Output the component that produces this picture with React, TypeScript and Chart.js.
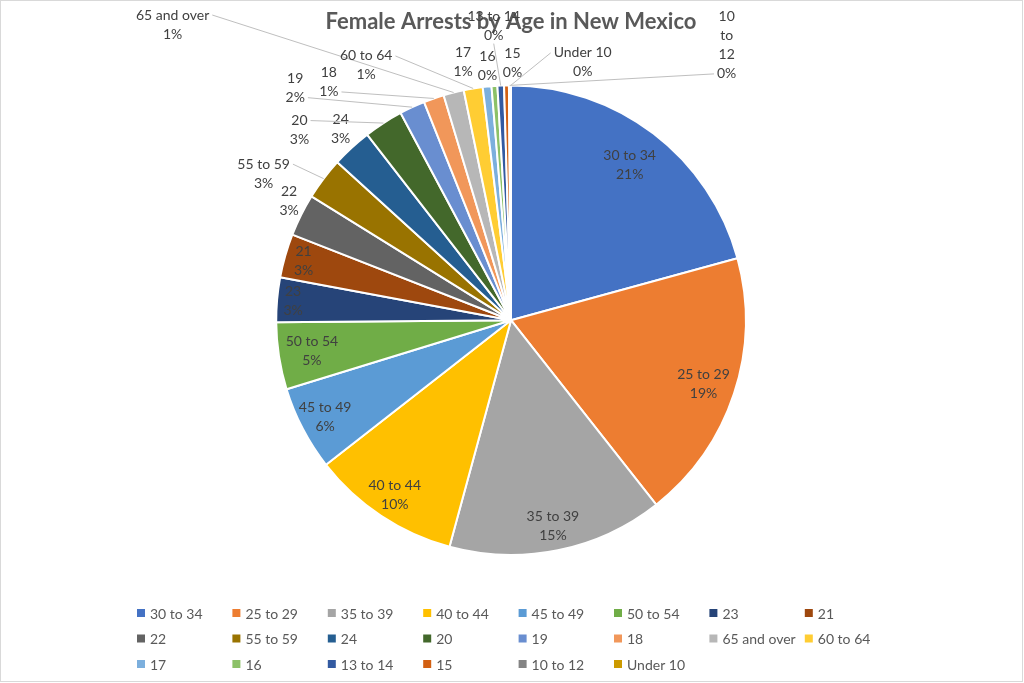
import React, { useEffect, useRef } from "react";
import { Chart, registerables } from "chart.js";

Chart.register(...registerables);

// ---------- data ----------
const categories = [
  "30 to 34", "25 to 29", "35 to 39", "40 to 44", "45 to 49", "50 to 54",
  "23", "21", "22", "55 to 59", "24", "20", "19", "18", "65 and over",
  "60 to 64", "17", "16", "13 to 14", "15", "10 to 12", "Under 10",
];
const arrests = [
  2070, 1860, 1480, 1020, 580, 460,
  306, 300, 290, 290, 275, 270, 175, 140, 140,
  130, 60, 40, 45, 33, 10, 4,
];
const sliceColors = [
  "#4472C4", "#ED7D31", "#A5A5A5", "#FFC000", "#5B9BD5", "#70AD47",
  "#264478", "#9E480E", "#636363", "#997300", "#255E91", "#43682B",
  "#698ED0", "#F1975A", "#B7B7B7", "#FFCD33", "#7CAFDD", "#8CC168",
  "#335AA1", "#D26012", "#848484", "#CC9A00",
];
const chartTitle = "Female Arrests by Age in New Mexico";

// ---------- label layout ----------
type Attach = "r1" | "rL" | "l1" | "lL" | "b";
type Place =
  | { mode: "in"; shift?: number }
  | { mode: "out"; dx: number; dy: number; attach?: Attach; wrap?: boolean };

const labelPlacement: Record<string, Place> = {
  "30 to 34": { mode: "in", shift: -4 },
  "25 to 29": { mode: "in", shift: 3 },
  "35 to 39": { mode: "in", shift: 4 },
  "40 to 44": { mode: "in", shift: 10 },
  "45 to 49": { mode: "in", shift: 11 },
  "22": { mode: "out", dx: -12, dy: -14 },
  "55 to 59": { mode: "out", dx: -60, dy: -5, attach: "r1" },
  "24": { mode: "out", dx: -11, dy: -19 },
  "20": { mode: "out", dx: -84, dy: 7, attach: "r1" },
  "19": { mode: "out", dx: -117, dy: -19, attach: "rL" },
  "18": { mode: "out", dx: -105, dy: -16, attach: "rL" },
  "65 and over": { mode: "out", dx: -281, dy: -68, attach: "r1" },
  "60 to 64": { mode: "out", dx: -107, dy: -23, attach: "r1" },
  "17": { mode: "out", dx: -24, dy: -25 },
  "16": { mode: "out", dx: -7, dy: -20 },
  "13 to 14": { mode: "out", dx: -7, dy: -60, attach: "b" },
  "15": { mode: "out", dx: 6, dy: -22 },
  "10 to 12": { mode: "out", dx: 217, dy: -40, attach: "lL", wrap: true },
  "Under 10": { mode: "out", dx: 72, dy: -23, attach: "l1" },
};

const FONT = 'Lato, "Open Sans", "Noto Sans", sans-serif';
const LINE_H = 19;

const backgroundPlugin = {
  id: "bgBorder",
  beforeDraw(chart: any) {
    const { ctx, width, height } = chart;
    ctx.save();
    ctx.fillStyle = "#ffffff";
    ctx.fillRect(0, 0, width, height);
    ctx.strokeStyle = "#d9d9d9";
    ctx.lineWidth = 1;
    ctx.strokeRect(0.5, 0.5, width - 2, height - 2);
    ctx.restore();
  },
};

const pieLabelPlugin = {
  id: "pieLabels",
  afterDatasetsDraw(chart: any) {
    const ctx = chart.ctx as CanvasRenderingContext2D;
    const meta = chart.getDatasetMeta(0);
    const data = chart.data.datasets[0].data as number[];
    const total = data.reduce((a, b) => a + b, 0);
    ctx.save();
    ctx.font = `14px ${FONT}`;
    ctx.textAlign = "center";
    ctx.textBaseline = "middle";
    meta.data.forEach((el: any, i: number) => {
      const { x, y, startAngle, endAngle, outerRadius } = el.getProps(
        ["x", "y", "startAngle", "endAngle", "outerRadius"],
        true
      );
      const mid = (startAngle + endAngle) / 2;
      const ux = Math.cos(mid);
      const uy = Math.sin(mid);
      const px = x + ux * outerRadius;
      const py = y + uy * outerRadius;
      const cat = chart.data.labels[i] as string;
      const place: Place = labelPlacement[cat] || { mode: "in" };
      const pct = Math.round((data[i] / total) * 100) + "%";
      const lines =
        place.mode === "out" && place.wrap ? [...cat.split(" "), pct] : [cat, pct];
      const widths = lines.map((l) => ctx.measureText(l).width);
      const w = Math.max(...widths);
      const h = lines.length * LINE_H;
      let lx: number;
      let ly: number;
      if (place.mode === "in") {
        const limit = outerRadius - 4;
        let lo = 0;
        let hi = outerRadius;
        for (let k = 0; k < 40; k++) {
          const d = (lo + hi) / 2;
          const cx = Math.abs(ux) * d + w / 2;
          const cy = Math.abs(uy) * d + h / 2;
          if (Math.hypot(cx, cy) > limit) hi = d;
          else lo = d;
        }
        const d = lo + (place.shift || 0);
        lx = x + ux * d;
        ly = y + uy * d;
      } else {
        lx = px + place.dx;
        ly = py + place.dy;
      }
      const lineY = (k: number) => ly + (k - (lines.length - 1) / 2) * LINE_H;
      if (place.mode === "out" && place.attach) {
        const last = lines.length - 1;
        let ax = lx;
        let ay = ly;
        switch (place.attach) {
          case "r1": ax = lx + widths[0] / 2 + 3; ay = lineY(0); break;
          case "rL": ax = lx + widths[last] / 2 + 3; ay = lineY(last); break;
          case "l1": ax = lx - widths[0] / 2 - 3; ay = lineY(0); break;
          case "lL": ax = lx - widths[last] / 2 - 3; ay = lineY(last); break;
          case "b": ax = lx; ay = ly + h / 2 - 1; break;
        }
        ctx.beginPath();
        ctx.strokeStyle = "#bfbfbf";
        ctx.lineWidth = 1;
        ctx.moveTo(ax, ay);
        ctx.lineTo(px, py);
        ctx.stroke();
      }
      ctx.fillStyle = "#404040";
      lines.forEach((l, k) => ctx.fillText(l, lx, lineY(k)));
    });
    ctx.restore();
  },
};

const gridLegendPlugin = {
  id: "gridLegend",
  afterDraw(chart: any) {
    const ctx = chart.ctx as CanvasRenderingContext2D;
    const labels = chart.data.labels as string[];
    const colors = chart.data.datasets[0].backgroundColor as string[];
    const cols = 8;
    const colW = 95.4;
    const rowH = 25.5;
    const left = 137;
    const top = chart.chartArea.bottom + 57;
    ctx.save();
    ctx.font = `14px ${FONT}`;
    ctx.textBaseline = "middle";
    ctx.textAlign = "left";
    labels.forEach((t, i) => {
      const col = i % cols;
      const row = Math.floor(i / cols);
      const bx = left + col * colW;
      const by = top + row * rowH;
      ctx.fillStyle = colors[i];
      ctx.fillRect(bx, by - 4, 8, 8);
      ctx.fillStyle = "#595959";
      ctx.fillText(t, bx + 13, by + 1);
    });
    ctx.restore();
  },
};

export default function App() {
  const canvasRef = useRef<HTMLCanvasElement | null>(null);

  useEffect(() => {
    document.body.style.margin = "0";
    const canvas = canvasRef.current;
    if (!canvas) return;
    const chart = new Chart(canvas, {
      type: "pie",
      data: {
        labels: categories,
        datasets: [
          {
            data: arrests,
            backgroundColor: sliceColors,
            borderColor: "#ffffff",
            borderWidth: 2,
          },
        ],
      },
      options: {
        responsive: false,
        animation: false,
        devicePixelRatio: 1,
        layout: { padding: { top: 0, bottom: 127, left: 0, right: 2 } },
        plugins: {
          legend: { display: false },
          tooltip: { enabled: false },
          title: {
            display: true,
            text: chartTitle,
            color: "#595959",
            font: { family: FONT, size: 22, weight: "bold" },
            padding: { top: 9, bottom: 49 },
          },
        },
      },
      plugins: [backgroundPlugin, pieLabelPlugin, gridLegendPlugin],
    });
    return () => chart.destroy();
  }, []);

  return (
    <canvas
      ref={canvasRef}
      width={1024}
      height={683}
      style={{ display: "block", width: 1024, height: 683 }}
    />
  );
}
